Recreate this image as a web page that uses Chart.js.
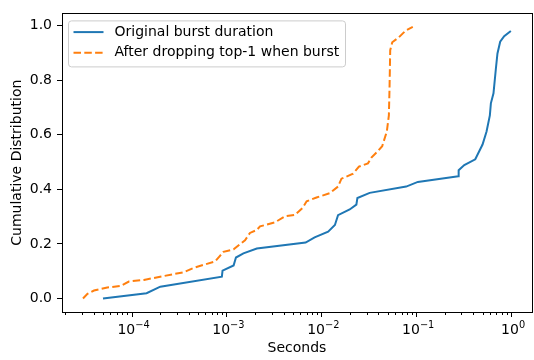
<!DOCTYPE html>
<html>
<head>
<meta charset="utf-8">
<script src="https://cdn.jsdelivr.net/npm/chart.js@4.4.1/dist/chart.umd.min.js"></script>
<style>
html, body { margin: 0; padding: 0; background: #fff; }
#wrap { position: relative; width: 534px; height: 360px; }
</style>
</head>
<body>
<div id="wrap"><canvas id="cdf"></canvas></div>
<script>
// CDF of burst durations (seconds, log x)
var seriesNames = ["Original burst duration", "After dropping top-1 when burst"];

var origX = [5.0e-5, 1.44e-4, 2.01e-4, 8.95e-4, 9.1e-4, 1.19e-3, 1.26e-3, 1.51e-3, 2.09e-3, 6.83e-3,
             8.5e-3, 0.0118, 0.0139, 0.0150, 0.0199, 0.0234, 0.024, 0.0323, 0.0784, 0.104,
             0.278, 0.28, 0.321, 0.419, 0.5, 0.551, 0.597, 0.612, 0.652, 0.69, 0.718, 0.767, 0.845, 0.994];
var origY = [0.0, 0.019, 0.043, 0.080, 0.102, 0.121, 0.150, 0.165, 0.183, 0.205,
             0.224, 0.245, 0.269, 0.305, 0.326, 0.344, 0.368, 0.387, 0.41, 0.427,
             0.448, 0.47, 0.489, 0.51, 0.564, 0.612, 0.671, 0.715, 0.752, 0.84, 0.898, 0.941, 0.961, 0.98];

var dropX = [3.08e-5, 3.43e-5, 4.02e-5, 5.55e-5, 7.67e-5, 9.37e-5, 1.35e-4, 2.18e-4, 3.54e-4, 4.51e-4,
             7.62e-4, 8.46e-4, 9.31e-4, 1.19e-3, 1.57e-3, 1.77e-3, 2.09e-3, 2.26e-3, 3.25e-3, 4.14e-3,
             5.27e-3, 6.35e-3, 7.0e-3, 8.9e-3, 0.0123, 0.015, 0.0163, 0.0216, 0.0249, 0.031,
             0.0337, 0.0394, 0.0438, 0.049, 0.0515, 0.0523, 0.0532, 0.0559, 0.0656, 0.077, 0.092];
var dropY = [0.0, 0.017, 0.029, 0.040, 0.046, 0.062, 0.068, 0.082, 0.096, 0.112,
             0.136, 0.154, 0.171, 0.18, 0.213, 0.24, 0.251, 0.264, 0.279, 0.301,
             0.306, 0.332, 0.356, 0.37, 0.386, 0.41, 0.439, 0.457, 0.483, 0.495,
             0.516, 0.540, 0.558, 0.612, 0.671, 0.767, 0.91, 0.939, 0.957, 0.981, 0.995];

var yTicks = [0, 0.2, 0.4, 0.6, 0.8, 1.0];
var xDecades = [-5, -4, -3, -2, -1, 0];

function pts(xs, ys) {
    return xs.map(function (x, i) { return {x: x, y: ys[i]}; });
}

function isDecade(v) {
    var l = Math.log10(v);
    return Math.abs(l - Math.round(l)) < 1e-9;
}

Chart.defaults.font.family = "'DejaVu Sans', sans-serif";
Chart.defaults.font.size = 14;
Chart.defaults.color = '#000';

// box round the axes, minor/major x ticks, 10^n labels with a real superscript
var frame = {
    id: 'frame',
    afterDatasetsDraw: function (chart) {
        var a = chart.chartArea, c = chart.ctx, xs = chart.scales.x;
        c.save();
        c.strokeStyle = '#000';
        c.lineWidth = 1;
        c.beginPath();
        xs.ticks.forEach(function (t) {
            var px = Math.round(xs.getPixelForValue(t.value)) + 0.5;
            var len = isDecade(t.value) ? 5 : 3;
            c.moveTo(px, a.bottom);
            c.lineTo(px, a.bottom + len);
        });
        c.stroke();
        c.strokeRect(Math.round(a.left) + 0.5, Math.round(a.top) + 0.5,
                     Math.round(a.right - a.left), Math.round(a.bottom - a.top));

        c.fillStyle = '#000';
        c.textBaseline = 'alphabetic';
        c.textAlign = 'left';
        xs.ticks.forEach(function (t) {
            if (!isDecade(t.value)) return;
            var px = xs.getPixelForValue(t.value);
            var base = '10', ex = '\u2212' + Math.abs(Math.round(Math.log10(t.value)));
            if (Math.round(Math.log10(t.value)) === 0) ex = '0';
            c.font = "14px 'DejaVu Sans'";
            var w1 = c.measureText(base).width;
            c.font = "9.8px 'DejaVu Sans'";
            var w2 = c.measureText(ex).width;
            var x0 = px + 2 - (w1 + w2) / 2;
            c.font = "14px 'DejaVu Sans'";
            c.fillText(base, x0, a.bottom + 21.5);
            c.font = "9.8px 'DejaVu Sans'";
            c.fillText(ex, x0 + w1, a.bottom + 15.5);
        });
        c.restore();
    }
};

// matplotlib-like legend box, upper left
var legendBox = {
    id: 'legendBox',
    afterDraw: function (chart) {
        var a = chart.chartArea, c = chart.ctx;
        var x0 = a.left + 6.5, y0 = a.top + 7.5, w = 277, h = 46, r = 3;
        c.save();
        c.beginPath();
        c.moveTo(x0 + r, y0);
        c.arcTo(x0 + w, y0, x0 + w, y0 + h, r);
        c.arcTo(x0 + w, y0 + h, x0, y0 + h, r);
        c.arcTo(x0, y0 + h, x0, y0, r);
        c.arcTo(x0, y0, x0 + w, y0, r);
        c.closePath();
        c.fillStyle = 'rgba(255,255,255,0.8)';
        c.fill();
        c.strokeStyle = '#cccccc';
        c.lineWidth = 1;
        c.stroke();
        c.font = "14px 'DejaVu Sans'";
        c.textBaseline = 'middle';
        chart.data.datasets.forEach(function (ds, i) {
            var ly = y0 + 11.2 + i * 20.6;
            c.beginPath();
            c.strokeStyle = ds.borderColor;
            c.lineWidth = ds.borderWidth;
            c.setLineDash(ds.borderDash || []);
            c.moveTo(x0 + 5, ly);
            c.lineTo(x0 + 35, ly);
            c.stroke();
            c.setLineDash([]);
            c.fillStyle = '#000';
            c.fillText(ds.label, x0 + 46, ly);
        });
        c.restore();
    }
};

new Chart(document.getElementById('cdf'), {
    type: 'line',
    data: {
        datasets: [{
            label: seriesNames[0],
            data: pts(origX, origY),
            borderColor: '#1f77b4',
            borderWidth: 2,
            pointRadius: 0,
            tension: 0,
            fill: false
        }, {
            label: seriesNames[1],
            data: pts(dropX, dropY),
            borderColor: '#ff7f0e',
            borderWidth: 2,
            borderDash: [7.5, 3.3],
            pointRadius: 0,
            tension: 0,
            fill: false
        }]
    },
    options: {
        responsive: true,
        maintainAspectRatio: false,
        animation: false,
        layout: { padding: { left: 0, top: 6, right: 2, bottom: 0 } },
        plugins: {
            legend: { display: false },
            tooltip: { enabled: false }
        },
        scales: {
            x: {
                type: 'logarithmic',
                min: 1.85e-5,
                max: 1.66,
                afterFit: function (s) { s.height = 48; },
                afterBuildTicks: function (s) {
                    var t = [];
                    xDecades.forEach(function (e) {
                        for (var m = 1; m < 10; m++) {
                            var v = m * Math.pow(10, e);
                            if (v >= s.min && v <= s.max) t.push({value: v});
                        }
                    });
                    s.ticks = t;
                },
                ticks: {
                    autoSkip: false,
                    maxRotation: 0,
                    padding: 2,
                    // labels are drawn by the frame plugin (superscript exponent)
                    callback: function () { return ''; }
                },
                grid: { display: true, drawOnChartArea: false, tickLength: 5, tickColor: 'rgba(0,0,0,0)' },
                border: { display: false },
                title: { display: true, text: 'Seconds', padding: { top: 3, bottom: 3 } }
            },
            y: {
                min: -0.0497,
                max: 1.0447,
                afterFit: function (s) { s.width = 62; },
                afterBuildTicks: function (s) {
                    s.ticks = yTicks.map(function (v) { return {value: v}; });
                },
                ticks: {
                    padding: 5,
                    callback: function (v) { return v.toFixed(1); }
                },
                grid: { display: true, drawOnChartArea: false, tickLength: 5, tickColor: '#000' },
                border: { display: false },
                title: { display: true, text: 'Cumulative Distribution', padding: { top: 8.6, bottom: 3 } }
            }
        }
    },
    plugins: [frame, legendBox]
});
</script>
</body>
</html>
